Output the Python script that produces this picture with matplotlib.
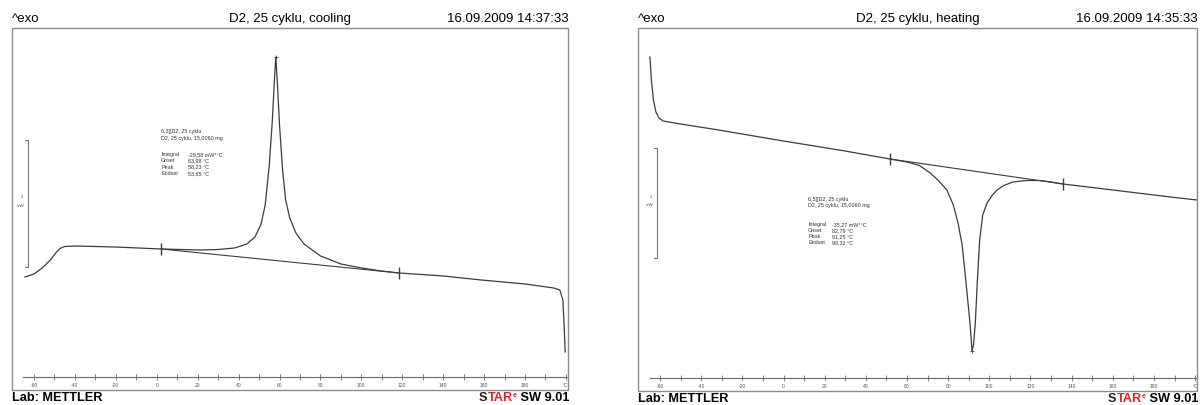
#!/usr/bin/env python3
# -*- coding: utf-8 -*-
"""
DSC curves D2, 25 cyklu - cooling (left) and heating (right), METTLER STARe style
"""

import matplotlib
matplotlib.use('Agg')
import matplotlib.pyplot as plt
from matplotlib.patches import Rectangle

plt.rcParams['font.family'] = ['Liberation Sans', 'DejaVu Sans']

W, H = 1202, 405

# ---- data: temperature (°C) and heat flow (mW, arbitrary zero) ----
cool_T = [-64.4, -60, -56, -52, -49, -47.3, -45, -40, -20, 2.1, 21, 30, 38, 44, 48, 51, 53, 55,
          56.5, 57.5, 58.2, 59, 60, 61.5, 63, 65, 68, 72, 80, 90, 100, 110, 118.4, 140, 158.5,
          180, 194, 197, 198.5, 199.2, 199.6]
cool_hf = [1.575, 1.622, 1.717, 1.843, 1.969, 2.024, 2.055, 2.063, 2.047, 2.016, 2.000, 2.008,
           2.031, 2.094, 2.205, 2.409, 2.709, 3.339, 4.047, 4.677, 5.039, 4.598, 3.969, 3.260,
           2.787, 2.504, 2.268, 2.094, 1.906, 1.780, 1.717, 1.669, 1.638, 1.591, 1.528, 1.465,
           1.402, 1.370, 1.213, 0.740, 0.394]
cool_base_T = [2.1, 118.4]
cool_base_hf = [2.016, 1.638]
cool_peak = (58.2, 5.039)

heat_T = [-64.9, -64.2, -63.2, -62.0, -60.5, -58.5, -50, -33, 0, 30, 51.7, 60, 66, 71.3, 75, 79.4,
          82.5, 84.8, 86.8, 88.2, 89.5, 90.6, 91.6, 92.3, 93.2, 94.2, 95.3, 96.8, 98.9, 101.5,
          103.7, 107, 111.5, 118, 124.6, 130, 135.8, 150, 170, 190, 201]
heat_hf = [5.836, 5.418, 5.055, 4.836, 4.727, 4.673, 4.618, 4.518, 4.309, 4.127, 3.982, 3.927,
           3.864, 3.727, 3.600, 3.418, 3.145, 2.818, 2.418, 1.909, 1.418, 1.000, 0.491, 0.600,
           1.000, 1.782, 2.509, 2.964, 3.182, 3.327, 3.418, 3.500, 3.564, 3.591, 3.591, 3.564,
           3.527, 3.464, 3.373, 3.282, 3.236]
heat_base_T = [51.7, 135.8]
heat_base_hf = [3.982, 3.527]
heat_peak = (91.6, 0.491)

tick_values = [-60, -40, -20, 0, 20, 40, 60, 80, 100, 120, 140, 160, 180, 200]
tick_labels = ['-60', '-40', '-20', '0', '20', '40', '60', '80', '100', '120', '140', '160', '180', '°C']
minor_values = list(range(-60, 201, 10))

info_names = ['Integral', 'Onset', 'Peak', 'Endset']
cool_info_head = ['6,3[]D2, 25 cyklu', 'D2, 25 cyklu, 15,0060 mg']
cool_info_values = ['-29,58 mW*°C', '63,98 °C', '58,23 °C', '53,65 °C']
heat_info_head = ['6,5[]D2, 25 cyklu', 'D2, 25 cyklu, 15,0060 mg']
heat_info_values = ['-35,27 mW*°C', '82,79 °C', '91,25 °C', '98,32 °C']

LINE = '#3c3c3c'
FRAME = '#8c8c8c'
RED = '#d9262e'


def fx(px):
    return px / W


def fy(py):
    return 1 - py / H


def panel(fig, x0, x1, y_top, y_axis, y_bot, xlim, ylim, axis_start,
          T, hf, base_T, base_hf, peak, bar_T, bar_lo, info_head, info_values,
          info_T, info_T2, head_top, fields_top, title, date, lab_y):
    # outer frame
    fig.add_artist(Rectangle((fx(x0), fy(y_bot)), fx(x1 - x0), (y_bot - y_top) / H,
                             transform=fig.transFigure, fill=False, ec=FRAME, lw=1.0))
    ax = fig.add_axes([fx(x0), fy(y_axis), fx(x1 - x0), (y_axis - y_top) / H])
    ax.patch.set_visible(False)
    ax.set_xlim(*xlim)
    ax.set_ylim(*ylim)
    for s in ['top', 'left', 'right']:
        ax.spines[s].set_visible(False)
    ax.spines['bottom'].set_color('#6a6a6a')
    ax.spines['bottom'].set_linewidth(0.8)
    ax.spines['bottom'].set_bounds(axis_start, xlim[1])
    ax.set_yticks([])
    ax.set_xticks(tick_values)
    ax.set_xticklabels(tick_labels)
    ax.set_xticks(minor_values, minor=True)
    ax.tick_params(axis='x', which='both', direction='inout', length=4, width=0.6,
                   color='#6a6a6a', labelsize=3.6, labelcolor='#555555', pad=2)

    # curve, baseline, markers
    ax.plot(T, hf, color=LINE, lw=0.9, clip_on=False)
    ax.plot(base_T, base_hf, color=LINE, lw=0.8)
    ax.plot(base_T, base_hf, ls='none', marker='|', ms=8, mew=1.0, color=LINE)
    ax.plot([peak[0]], [peak[1]], ls='none', marker='+', ms=3, mew=0.6, color=LINE)

    # scale bar 2 mW
    tick = 1.6
    ax.plot([bar_T - tick, bar_T, bar_T, bar_T - tick],
            [bar_lo + 2, bar_lo + 2, bar_lo, bar_lo], color='#777777', lw=0.8)
    ax.text(bar_T - 2.5, bar_lo + 1.07, '2', fontsize=3.2, ha='right', va='bottom', color='#555555')
    ax.text(bar_T - 1.5, bar_lo + 1.0, 'mW', fontsize=3.2, ha='right', va='top', color='#555555')

    # evaluation text
    ax.text(info_T, head_top, '\n'.join(info_head), fontsize=3.9, va='top', ha='left',
            linespacing=1.3, color='#333333')
    ax.text(info_T, fields_top, '\n'.join(info_names), fontsize=3.9, va='top', ha='left',
            linespacing=1.3, color='#333333')
    ax.text(info_T2, fields_top, '\n'.join(info_values), fontsize=3.9, va='top', ha='left',
            linespacing=1.3, color='#333333')

    # header and footer
    fig.text(fx(x0), fy(19), '^exo', fontsize=9.5, ha='left', va='center')
    fig.text(fx((x0 + x1) / 2), fy(19), title, fontsize=9.5, ha='center', va='center')
    fig.text(fx(x1 + 1), fy(19), date, fontsize=9.5, ha='right', va='center')
    fig.text(fx(x0), fy(lab_y), 'Lab: METTLER', fontsize=9.2, fontweight='bold', ha='left', va='center')

    # "STARe SW 9.01", built right to left
    t1 = fig.text(fx(x1 + 1), fy(lab_y), ' SW 9.01', fontsize=9.2, fontweight='bold',
                  ha='right', va='center')
    t2 = ax.annotate('e', xy=(0, 0.45), xycoords=t1, fontsize=5, fontweight='bold',
                     color=RED, ha='right', va='bottom', annotation_clip=False)
    t3 = ax.annotate('TAR', xy=(0, 0), xycoords=(t2, t1), fontsize=9.2, fontweight='bold',
                     color=RED, ha='right', va='bottom', annotation_clip=False)
    ax.annotate('S', xy=(0, 0), xycoords=(t3, t1), fontsize=9.2, fontweight='bold',
                color='#222222', ha='right', va='bottom', annotation_clip=False)
    return ax


def main():
    fig = plt.figure(figsize=(W / 100, H / 100), dpi=100)

    # cooling, left panel: x = 156.8 + 2.046*T px, 63.5 px per mW
    panel(fig, 11.5, 568, 28, 377, 390, (-71.0, 201.0), (0, 349 / 63.5), -65.4,
          cool_T, cool_hf, cool_base_T, cool_base_hf, cool_peak,
          -63.0, 1.732, cool_info_head, cool_info_values, 2.1, 15.5, 3.90, 3.54,
          'D2, 25 cyklu, cooling', '16.09.2009 14:37:33', 398)

    # heating, right panel: x = 783.5 + 2.058*T px, 55 px per mW
    panel(fig, 638, 1197, 28, 378, 391, (-70.7, 200.9), (0, 350 / 55), -64.9,
          heat_T, heat_hf, heat_base_T, heat_base_hf, heat_peak,
          -61.5, 2.182, heat_info_head, heat_info_values, 11.9, 23.8, 3.30, 2.84,
          'D2, 25 cyklu, heating', '16.09.2009 14:35:33', 399)

    fig.savefig('out.png', dpi=100)


if __name__ == '__main__':
    main()
